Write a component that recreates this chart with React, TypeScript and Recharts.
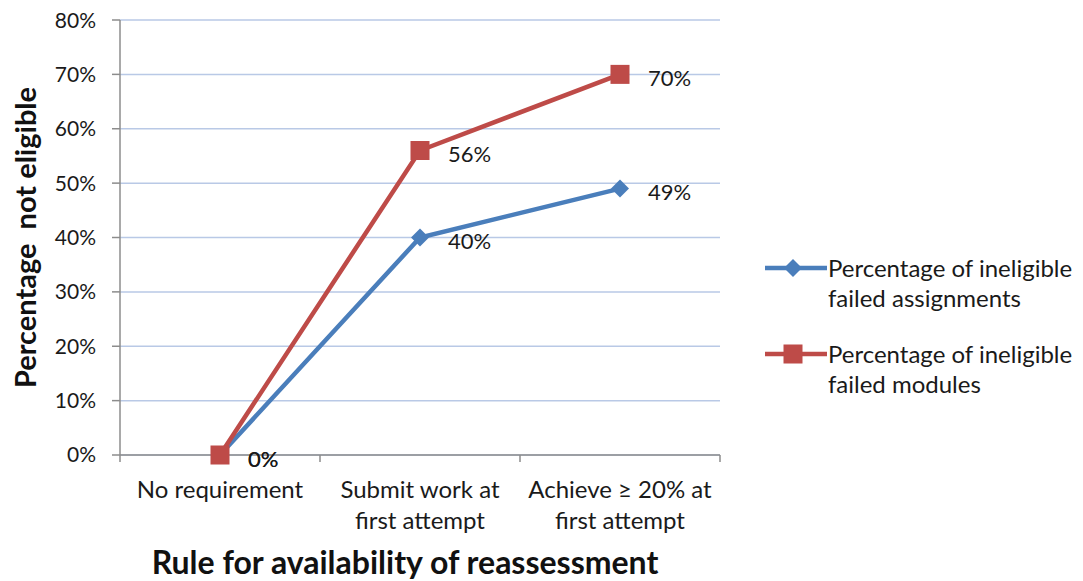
import React from 'react';
import { LineChart, Line, XAxis, YAxis, CartesianGrid, Legend, LabelList } from 'recharts';

const categories = ['No requirement', 'Submit work at\nfirst attempt', 'Achieve ≥ 20% at\nfirst attempt'];
const assignments = [0, 40, 49];
const modules = [0, 56, 70];
const yTicks = [0, 10, 20, 30, 40, 50, 60, 70, 80];

const seriesNames = ['Percentage of ineligible\nfailed assignments', 'Percentage of ineligible\nfailed modules'];

const BLUE = '#4a7ebb';
const RED = '#be4b48';
const FONT = 'Lato, "Open Sans", sans-serif';

const data = categories.map((name, i) => ({ name, assignments: assignments[i], modules: modules[i] }));

const Diamond = (props: any) => {
  const { cx, cy } = props;
  const h = 9;
  return <polygon points={`${cx},${cy - h} ${cx + h},${cy} ${cx},${cy + h} ${cx - h},${cy}`} fill={BLUE} />;
};

const Square = (props: any) => {
  const { cx, cy } = props;
  const h = 9.5;
  return <rect x={cx - h} y={cy - h} width={h * 2} height={h * 2} fill={RED} />;
};

// category ticks: Excel-style marks sit between categories, labels under centres
const XTick = (props: any) => {
  const { x, y, payload, index } = props;
  const lines = String(payload.value).split('\n');
  const half = 100;
  return (
    <g>
      <line x1={x - half} y1={y} x2={x - half} y2={y + 7} stroke="#8c8c8c" strokeWidth={1.5} />
      {index === categories.length - 1 && (
        <line x1={x + half} y1={y} x2={x + half} y2={y + 7} stroke="#8c8c8c" strokeWidth={1.5} />
      )}
      <text x={x} y={y + 37} textAnchor="middle" dominantBaseline="middle" fill="#1a1a1a" fontSize={24} fontFamily={FONT}>
        {lines.map((l, i) => (
          <tspan key={i} x={x} dy={i === 0 ? 0 : 31}>{l}</tspan>
        ))}
      </text>
    </g>
  );
};

const valueLabel = (props: any) => {
  const { x, y, value } = props;
  return (
    <text x={x + 28} y={y + 6} dominantBaseline="middle" fill="#1a1a1a" fontSize={22} fontFamily={FONT}>
      {value}%
    </text>
  );
};

const LegendBox = () => {
  const items = [
    { name: seriesNames[0], color: BLUE, shape: 'diamond' },
    { name: seriesNames[1], color: RED, shape: 'square' },
  ];
  return (
    <div style={{ fontFamily: FONT, fontSize: 24, color: '#1a1a1a' }}>
      {items.map((it, i) => (
        <div key={i} style={{ display: 'flex', alignItems: 'flex-start', marginBottom: i === 0 ? 26 : 0 }}>
          <svg width={63} height={30} style={{ flexShrink: 0 }}>
            <line x1={0} y1={15} x2={62} y2={15} stroke={it.color} strokeWidth={4.5} />
            {it.shape === 'diamond' ? (
              <polygon points="28,6 37,15 28,24 19,15" fill={it.color} />
            ) : (
              <rect x={18.5} y={5.5} width={19} height={19} fill={it.color} />
            )}
          </svg>
          <div style={{ lineHeight: '30px', whiteSpace: 'pre' }}>{it.name}</div>
        </div>
      ))}
    </div>
  );
};

export default function App() {
  return (
    <div style={{ width: 1075, height: 573, background: '#fff' }}>
      <LineChart width={1075} height={573} data={data} margin={{ top: 12, right: 43, left: 0, bottom: 0 }}>
        <CartesianGrid vertical={false} stroke="#b9c9e6" strokeWidth={1.5} />
        <XAxis
          dataKey="name"
          scale="band"
          axisLine={{ stroke: '#8c8c8c', strokeWidth: 1.5 }}
          tickLine={false}
          tickSize={0}
          tickMargin={0}
          tick={<XTick />}
          interval={0}
          height={126}
          label={(p: any) => {
            const vb = p.viewBox;
            return (
              <text x={vb.x + vb.width / 2 - 15} y={vb.y + 111} textAnchor="middle" dominantBaseline="middle" fontSize={32} fontWeight="bold" fill="#111" fontFamily={FONT}>
                Rule for availability of reassessment
              </text>
            );
          }}
        />
        <YAxis
          domain={[0, 80]}
          ticks={yTicks}
          tickFormatter={(v: number) => `${v}%`}
          axisLine={{ stroke: '#8c8c8c', strokeWidth: 1.5 }}
          tickLine={{ stroke: '#8c8c8c', strokeWidth: 1.5 }}
          tickSize={8}
          tickMargin={16}
          tick={{ fill: '#1a1a1a', fontSize: 21, fontFamily: FONT }}
          width={112}
          label={(p: any) => {
            const vb = p.viewBox;
            const cx = 21;
            const cy = vb.y + vb.height / 2;
            return (
              <text x={cx} y={cy} transform={`rotate(-90 ${cx} ${cy})`} textAnchor="middle" dominantBaseline="middle" fontSize={29} fontWeight="bold" fill="#111" fontFamily={FONT} style={{ whiteSpace: 'pre' }}>
                Percentage  not eligible
              </text>
            );
          }}
        />
        <Legend
          layout="horizontal"
          verticalAlign="middle"
          align="right"
          content={<LegendBox />}
          wrapperStyle={{ left: 757, top: 245, width: 320 }}
        />
        <Line
          dataKey="assignments"
          name={seriesNames[0]}
          stroke={BLUE}
          strokeWidth={4.5}
          dot={<Diamond />}
          activeDot={false}
          isAnimationActive={false}
        >
          <LabelList dataKey="assignments" content={valueLabel} />
        </Line>
        <Line
          dataKey="modules"
          name={seriesNames[1]}
          stroke={RED}
          strokeWidth={4.5}
          dot={<Square />}
          activeDot={false}
          isAnimationActive={false}
        >
          <LabelList dataKey="modules" content={valueLabel} />
        </Line>
      </LineChart>
    </div>
  );
}
